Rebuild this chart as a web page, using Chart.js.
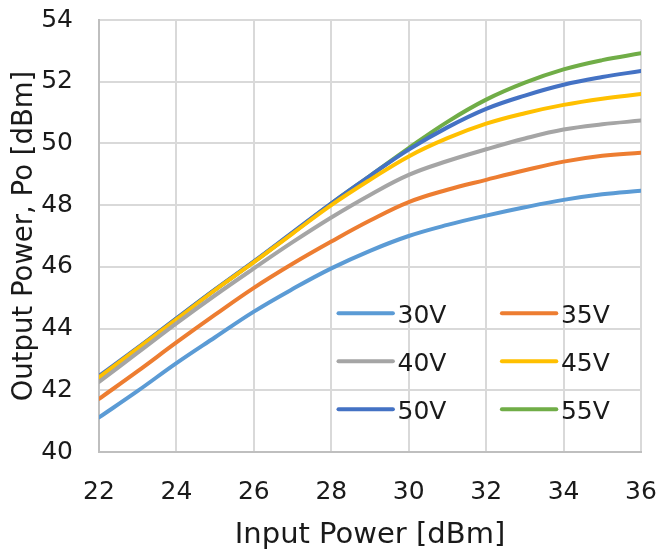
<!DOCTYPE html>
<html>
<head>
<meta charset="utf-8">
<script src="https://cdn.jsdelivr.net/npm/chart.js@4/dist/chart.umd.min.js"></script>
<style>
  html, body { margin: 0; padding: 0; background: #ffffff; }
  #wrap { width: 661px; height: 550px; }
</style>
</head>
<body>
<div id="wrap"><canvas id="c" width="661" height="550"></canvas></div>
<script>
// ---- data ----
const inputPower = [22, 23, 24, 25, 26, 27, 28, 29, 30, 31, 32, 33, 34, 35, 36];
const seriesLabels = ['30V', '35V', '40V', '45V', '50V', '55V'];
const po30V = [41.12, 41.98, 42.88, 43.72, 44.55, 45.28, 45.95, 46.52, 47.00, 47.36, 47.66, 47.93, 48.17, 48.35, 48.47];
const po35V = [41.72, 42.62, 43.55, 44.45, 45.32, 46.10, 46.82, 47.50, 48.10, 48.50, 48.82, 49.13, 49.41, 49.60, 49.70];
const po40V = [42.27, 43.22, 44.17, 45.08, 45.95, 46.80, 47.60, 48.33, 48.98, 49.43, 49.81, 50.16, 50.45, 50.62, 50.74];
const po45V = [42.42, 43.36, 44.30, 45.25, 46.15, 47.08, 48.00, 48.82, 49.58, 50.17, 50.64, 50.98, 51.25, 51.45, 51.60];
const po50V = [42.46, 43.38, 44.33, 45.27, 46.18, 47.12, 48.06, 48.95, 49.80, 50.52, 51.12, 51.55, 51.90, 52.15, 52.35];
const po55V = [42.40, 43.36, 44.32, 45.26, 46.16, 47.10, 48.05, 48.95, 49.85, 50.70, 51.42, 51.97, 52.40, 52.70, 52.92];
const xTicks = [22, 24, 26, 28, 30, 32, 34, 36];
const yTicks = [40, 42, 44, 46, 48, 50, 52, 54];
const xTitle = 'Input Power [dBm]';
const yTitle = 'Output Power, Po [dBm]';

const seriesValues = [po30V, po35V, po40V, po45V, po50V, po55V];
const seriesColors = ['#5B9BD5', '#ED7D31', '#A5A5A5', '#FFC000', '#4472C4', '#70AD47'];

const FONT = "'DejaVu Sans', Verdana, sans-serif";

const datasets = seriesLabels.map((lab, i) => ({
  label: lab,
  data: inputPower.map((x, j) => ({ x: x, y: seriesValues[i][j] })),
  borderColor: seriesColors[i],
  backgroundColor: seriesColors[i],
  borderWidth: 4,
  pointRadius: 0,
  fill: false,
  tension: 0.4,
  borderCapStyle: 'round',
  borderJoinStyle: 'round'
}));

const inlineLegend = {
  id: 'inlineLegend',
  afterDatasetsDraw(chart) {
    const ctx = chart.ctx;
    const a = chart.chartArea;
    ctx.save();
    ctx.font = '25px ' + FONT;
    ctx.textAlign = 'left';
    ctx.textBaseline = 'alphabetic';
    chart.data.datasets.forEach((ds, i) => {
      const col = i % 2, row = Math.floor(i / 2);
      const x0 = a.left + 239.5 + col * 163.4;
      const y0 = a.top + 293.3 + row * 48;
      ctx.strokeStyle = ds.borderColor;
      ctx.lineWidth = 4;
      ctx.lineCap = 'round';
      ctx.beginPath();
      ctx.moveTo(x0, y0);
      ctx.lineTo(x0 + 54.4, y0);
      ctx.stroke();
      ctx.fillStyle = '#1a1a1a';
      ctx.fillText(ds.label, x0 + 59, y0 + 9.2);
    });
    ctx.restore();
  }
};

new Chart(document.getElementById('c'), {
  type: 'line',
  data: { datasets: datasets },
  plugins: [inlineLegend],
  options: {
    responsive: false,
    animation: false,
    layout: { padding: 0 },
    plugins: { legend: { display: false }, tooltip: { enabled: false } },
    scales: {
      x: {
        type: 'linear',
        min: xTicks[0], max: xTicks[xTicks.length - 1],
        afterBuildTicks(s) { s.ticks = xTicks.map(v => ({ value: v })); },
        afterFit(s) { s.height = 98; s.paddingLeft = 0; s.paddingRight = 20; },
        ticks: { font: { family: FONT, size: 25 }, color: '#1a1a1a', padding: 25, maxRotation: 0 },
        grid: { color: '#d9d9d9', lineWidth: 2, drawTicks: false },
        border: { color: '#bfbfbf', width: 2 },
        title: { display: true, text: xTitle, font: { family: FONT, size: 29 }, color: '#1a1a1a', padding: { top: 0, bottom: -3 } }
      },
      y: {
        type: 'linear',
        min: yTicks[0], max: yTicks[yTicks.length - 1],
        afterBuildTicks(s) { s.ticks = yTicks.map(v => ({ value: v })); },
        afterFit(s) { s.width = 99; s.paddingTop = 20; s.paddingBottom = 0; },
        ticks: { font: { family: FONT, size: 25 }, color: '#1a1a1a', padding: 26 },
        grid: { color: '#d9d9d9', lineWidth: 2, drawTicks: false },
        border: { color: '#bfbfbf', width: 2 },
        title: { display: true, text: yTitle, font: { family: FONT, size: 27.5 }, color: '#1a1a1a', padding: { top: 8.5, bottom: 0 } }
      }
    }
  }
});
</script>
</body>
</html>
